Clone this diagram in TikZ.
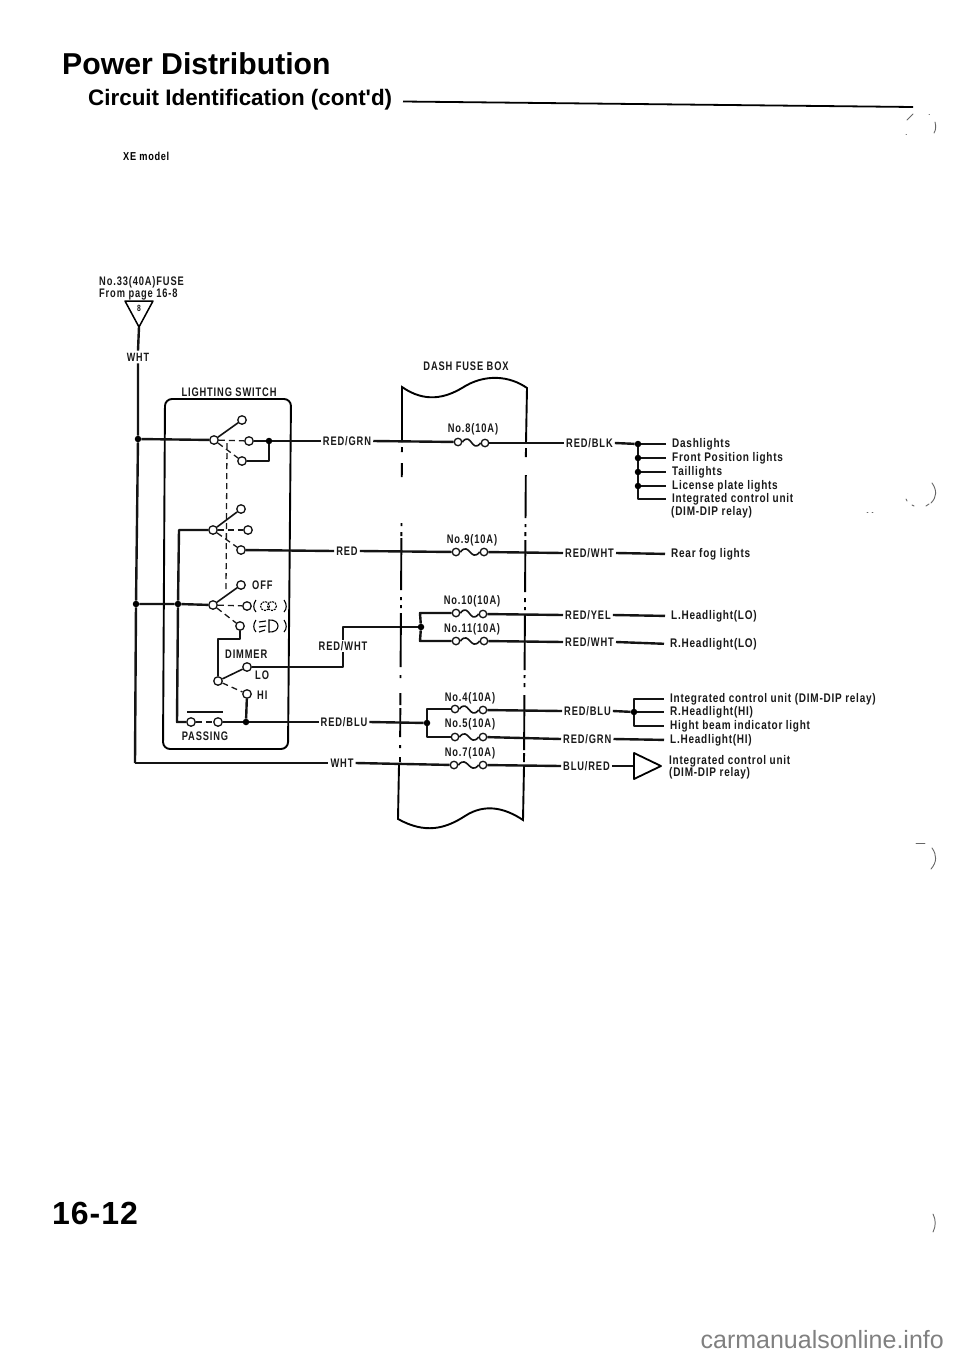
\documentclass[tikz,border=0pt]{standalone}
\usepackage{fontspec}
\setmainfont{Liberation Sans}
\newfontfamily\capsfont[FakeStretch=0.75,LetterSpace=7]{Liberation Sans Bold}
\newfontfamily\smallfont[FakeStretch=0.8,LetterSpace=6]{Liberation Sans Bold}
\newfontfamily\titlefont{Liberation Sans Bold}
\newfontfamily\pagefont[LetterSpace=3]{Liberation Sans Bold}
\begin{document}
\begin{tikzpicture}[x=1pt,y=-1pt,
  lab/.style={font=\capsfont\fontsize{12.4}{12}\selectfont,inner sep=2pt,text height=8.5pt,text depth=0pt,text=black!90},
  cons/.style={font=\smallfont\fontsize{12.5}{11}\selectfont,inner sep=0pt,anchor=west,text height=8pt,text depth=2pt,text=black!90},
  wire/.style={line width=2.4pt,draw=black!92,line join=round},
  load/.style={wire,shorten >=6pt},
  thinw/.style={line width=1.6pt,draw=black!92,line join=round},
  term/.style={circle,draw=black!92,fill=white,line width=1.3pt,minimum size=8.5pt,inner sep=0pt},
  joint/.style={circle,fill=black,minimum size=6.5pt,inner sep=0pt},
  mech/.style={line width=1.3pt,draw=black!90,dash pattern=on 6pt off 4pt},
  stray/.style={line width=.9pt,draw=black!60,line cap=round}]
\newcommand{\fusesym}[5]{%
  \node[term,minimum size=7.5pt] (#1a) at (#2,#3) {};
  \node[term,minimum size=7.5pt] (#1b) at (#4,#5) {};
  \draw[thinw] (#1a.east) .. controls +(9,-11) and +(-9,11) .. (#1b.west);}
\useasboundingbox (0,0) rectangle (960,1357);
\fill[white] (0,0) rectangle (960,1357);

% headings
\node[font=\titlefont\fontsize{30.2}{30}\selectfont,anchor=base west,inner sep=0pt] (title) at (62,74) {Power Distribution};
\node[font=\titlefont\fontsize{22.4}{22}\selectfont,anchor=base west,inner sep=0pt] (sub) at (88,105) {Circuit Identification (cont'd)};
\coordinate (ruleL) at (403,101.5);
\coordinate (ruleR) at (913,107);
\draw[line width=1.8pt] (ruleL) -- (ruleR);
\node[font=\smallfont\fontsize{11.5}{9}\selectfont,anchor=base west,inner sep=0pt] (xe) at (123,160) {XE model};
\node[font=\pagefont\fontsize{32}{31}\selectfont,anchor=base west,inner sep=0pt] (pagenum) at (52,1224) {16-12};
\node[font=\fontsize{25}{25}\selectfont,anchor=base east,inner sep=0pt,text=black!50] (wm) at (944,1348) {carmanualsonline.info};

% source
\node[cons,font=\capsfont\fontsize{12.4}{10.5}\selectfont] (f33) at (99,282) {No.33(40A)FUSE};
\node[cons,font=\capsfont\fontsize{12.4}{10.5}\selectfont] (frompg) at (99,294) {From page 16-8};
\draw[line width=1.5pt,line join=round] (125,301) -- (153,301) -- (139,327) -- cycle;
\node[cons,font=\capsfont\fontsize{9}{8}\selectfont,anchor=center] (eight) at (139,308) {8};
\coordinate (tip) at (139,327);
\node[lab,font=\capsfont\fontsize{12}{11}\selectfont] (wht0) at (138,357) {WHT};
\draw[wire] (tip) -- (wht0.north);
\node[joint] (j1) at (138,439) {};
\node[joint] (j2) at (136,604) {};
\coordinate (busB) at (135,763);
\draw[wire] (wht0.south) -- (j1) -- (j2) -- (busB);

% lighting switch box
\node[lab] (ls) at (229,392) {LIGHTING SWITCH};
\draw[line width=1.9pt,rounded corners=7pt] (165,399) -- (291,399) -- (288,749) -- (163,749) -- cycle;

% switch 1
\node[term] (s1p) at (214,440) {};
\node[term] (s1u) at (242,420) {};
\node[term] (s1m) at (249,441) {};
\node[term] (s1l) at (242,461) {};
\node[joint] (j3) at (269,441) {};
\node[lab] (redgrnL) at (347,441) {RED/GRN};
\draw[wire] (j1) -- (s1p);
\draw[thinw] (s1p) -- (s1u);
\draw[mech] (s1p) -- (s1m);
\draw[mech] (s1p) -- (s1l);
\draw[wire] (s1m) -- (j3) -- (redgrnL.west);
\draw[wire] (j3) |- (s1l);
\draw[mech] (227,443) -- (226,590);

% switch 2
\node[term] (s2p) at (213,530) {};
\node[term] (s2u) at (241,509) {};
\node[term] (s2m) at (248,530) {};
\node[term] (s2l) at (241,550) {};
\node[lab] (redL) at (347,551) {RED};
\draw[thinw] (s2p) -- (s2u);
\draw[mech] (s2p) -- (s2m);
\draw[mech] (s2p) -- (s2l);
\draw[wire] (s2l) -- (redL.west);
\node[joint] (j4) at (178,604) {};
\node[term] (pa) at (191,722) {};
\draw[wire] (s2p) -- (179,530) -- (j4) -- (177,722) -- (pa);

% switch 3
\node[term] (s3p) at (213,605) {};
\node[term] (s3u) at (241,585) {};
\node[term] (s3m) at (247,606) {};
\node[term] (s3l) at (240,626) {};
\node[lab,anchor=west,inner sep=0pt] (off) at (252,585) {OFF};
\draw[wire] (j2) -- (j4) -- (s3p);
\draw[thinw] (s3p) -- (s3u);
\draw[mech] (s3p) -- (s3m);
\draw[mech] (s3p) -- (s3l);
% parking-light and headlight symbols
\begin{scope}[line width=1.1pt]
  \draw (256,600) .. controls (253,604) and (253,609) .. (256,612);
  \draw (284,600) .. controls (287,604) and (287,609) .. (284,612);
  \draw[dash pattern=on 2pt off 1pt] (265,606) circle (4.5);
  \draw[dash pattern=on 2pt off 1pt] (272,606) circle (4.5);
  \draw (256,620) .. controls (253,624) and (253,629) .. (256,632);
  \draw (284,620) .. controls (287,624) and (287,629) .. (284,632);
  \draw (269,620) .. controls (281,619) and (281,633) .. (269,632) -- cycle;
  \draw (259,622) -- (266,621) (259,627) -- (266,626) (259,632) -- (265,630);
\end{scope}

% dimmer
\node[lab,anchor=west,inner sep=0pt] (dim) at (225,654) {DIMMER};
\node[term] (dp) at (218,681) {};
\node[term] (dlo) at (247,667) {};
\node[term] (dhi) at (247,694) {};
\node[lab,anchor=west,inner sep=0pt] (lo) at (255,675) {LO};
\node[lab,anchor=west,inner sep=0pt] (hi) at (257,695) {HI};
\draw[wire] (s3l) -- (240,639) -- (218,639) -- (dp);
\draw[thinw] (dp) -- (dlo);
\draw[mech] (dp) -- (dhi);
\node[lab] (redwhtL) at (343,646) {RED/WHT};
\node[joint] (j6) at (421,627) {};
\draw[wire] (dlo) -- (343,667) -- (redwhtL.south);
\draw[wire] (redwhtL.north) -- (343,627) -- (j6);

% passing
\node[term] (pb) at (218,722) {};
\node[joint] (j5) at (246,722) {};
\node[lab] (pass) at (205,736) {PASSING};
\node[lab] (redbluL) at (344,722) {RED/BLU};
\coordinate (barL) at (187,712);
\coordinate (barR) at (223,712);
\draw[thinw] (barL) -- (barR);
\draw[mech] (pa) -- (pb);
\draw[wire] (dhi) -- (j5);
\draw[wire] (pb) -- (j5) -- (redbluL.west);

% bottom WHT
\node[lab] (whtL) at (342,763) {WHT};
\draw[wire] (busB) -- (whtL.west);

% fuse box
\node[lab] (dfb) at (466,366) {DASH FUSE BOX};
\begin{scope}[line width=1.9pt]
  \draw (402,442) -- (402,387) .. controls (425,403) and (445,398) .. (462,388) .. controls (485,373) and (510,376) .. (527,388) -- (526,443);
  \draw (399,765) -- (398,819) .. controls (425,834) and (445,829) .. (465,816) .. controls (485,803) and (505,808) .. (523,820) -- (524,766);
  \foreach \a/\b in {447/452,463/477,523/526,532/536,538/590,597/600,605/608,613/667,675/678,693/705,708/737,745/748,757/762}{
    \draw ({402-(\a-442)*2/320},\a) -- ({402-(\b-442)*2/320},\b);
  }
  \foreach \a/\b in {448/457,475/518,524/527,532/536,540/592,598/602,607/610,615/670,675/678,683/687,695/750,753/762}{
    \draw ({526-(\a-443)*2/320},\a) -- ({526-(\b-443)*2/320},\b);
  }
\end{scope}

% fuses
\fusesym{f8}{458}{442}{485}{443}
\fusesym{f9}{456}{552}{484}{552}
\fusesym{f10}{456}{613}{483}{614}
\fusesym{f11}{456}{641}{484}{641}
\fusesym{f4}{455}{709}{483}{710}
\fusesym{f5}{455}{737}{483}{737}
\fusesym{f7}{454}{765}{483}{765}
\node[lab] (n8) at (473,428) {No.8(10A)};
\node[lab] (n9) at (472,539) {No.9(10A)};
\node[lab] (n10) at (472,600) {No.10(10A)};
\node[lab] (n11) at (472,628) {No.11(10A)};
\node[lab] (n4) at (470,697) {No.4(10A)};
\node[lab] (n5) at (470,723) {No.5(10A)};
\node[lab] (n7) at (470,752) {No.7(10A)};

% left wires to fuses
\draw[wire] (redgrnL.east) -- (f8a);
\draw[wire] (redL.east) -- (f9a);
\draw[wire] (j6) -- (420,613) -- (f10a);
\draw[wire] (j6) -- (420,641) -- (f11a);
\node[joint] (j7) at (427,723) {};
\draw[wire] (redbluL.east) -- (j7);
\draw[wire] (j7) -- (427,709) -- (f4a);
\draw[wire] (j7) -- (427,737) -- (f5a);
\draw[wire] (whtL.east) -- (f7a);

% right labels
\node[lab,anchor=west] (rblk) at (564,443) {RED/BLK};
\node[lab,anchor=west] (rwht1) at (563,553) {RED/WHT};
\node[lab,anchor=west] (ryel) at (563,615) {RED/YEL};
\node[lab,anchor=west] (rwht2) at (563,642) {RED/WHT};
\node[lab,anchor=west] (rblu) at (562,711) {RED/BLU};
\node[lab,anchor=west] (rgrn) at (561,739) {RED/GRN};
\node[lab,anchor=west] (blured) at (561,766) {BLU/RED};
\draw[wire] (f8b) -- (rblk.west);
\draw[wire] (f9b) -- (rwht1.west);
\draw[wire] (f10b) -- (ryel.west);
\draw[wire] (f11b) -- (rwht2.west);
\draw[wire] (f4b) -- (rblu.west);
\draw[wire] (f5b) -- (rgrn.west);
\draw[wire] (f7b) -- (blured.west);

% consumers
\node[cons] (c1) at (672,444) {Dashlights};
\node[cons] (c2) at (672,458) {Front Position lights};
\node[cons] (c3) at (672,472) {Taillights};
\node[cons] (c4) at (672,486) {License plate lights};
\node[cons] (c5) at (672,499) {Integrated control unit};
\node[cons] (c5b) at (671,512) {(DIM-DIP relay)};
\node[joint] (b1) at (638,444) {};
\node[joint] (b2) at (638,458) {};
\node[joint] (b3) at (638,472) {};
\node[joint] (b4) at (638,486) {};
\draw[wire] (rblk.east) -- (b1);
\draw[load] (b1) -- (c1.west);
\draw[load] (b1) -- (b2) -- (b3) -- (b4) -- (638,499) -- (c5.west);
\draw[load] (b2) -- (c2.west);
\draw[load] (b3) -- (c3.west);
\draw[load] (b4) -- (c4.west);

\node[cons] (c6) at (671,554) {Rear fog lights};
\node[cons] (c7) at (671,616) {L.Headlight(LO)};
\node[cons] (c8) at (670,644) {R.Headlight(LO)};
\draw[load] (rwht1.east) -- (c6.west);
\draw[load] (ryel.east) -- (c7.west);
\draw[load] (rwht2.east) -- (c8.west);

\node[cons] (c9) at (670,699) {Integrated control unit (DIM-DIP relay)};
\node[cons] (c10) at (670,712) {R.Headlight(HI)};
\node[cons] (c11) at (670,726) {Hight beam indicator light};
\node[cons] (c12) at (670,740) {L.Headlight(HI)};
\node[joint] (b5) at (634,712) {};
\draw[wire] (rblu.east) -- (b5);
\draw[load] (b5) -- (c10.west);
\draw[load] (b5) -- (634,699) -- (c9.west);
\draw[load] (b5) -- (634,726) -- (c11.west);
\draw[load] (rgrn.east) -- (c12.west);

\node[cons] (c13) at (669,761) {Integrated control unit};
\node[cons] (c14) at (669,773) {(DIM-DIP relay)};
\coordinate (triL) at (634,766);
\draw[wire] (blured.east) -- (triL);
\draw[line width=1.8pt,line join=round] (634,753) -- (661,766) -- (634,779) -- cycle;

% scan marks
\draw[stray] (907,120) -- (913,114);
\draw[stray] (935,122) .. controls (936,126) and (936,130) .. (934,133);
\draw[stray] (929,114) -- (929.5,114) (906,134) -- (906.5,134);
\draw[stray] (932,483) .. controls (937,490) and (937,497) .. (931,503);
\draw[stray] (906,499) -- (907,501) (912,505) -- (914,506) (926,506) -- (929,504);
\draw[stray] (867,512) -- (868,512) (872,512) -- (873,512);
\draw[stray] (916,843) -- (925,843);
\draw[stray] (932,848) .. controls (937,855) and (937,862) .. (931,869);
\draw[stray] (933,1214) .. controls (936,1220) and (936,1226) .. (933,1232);
\end{tikzpicture}
\end{document}
